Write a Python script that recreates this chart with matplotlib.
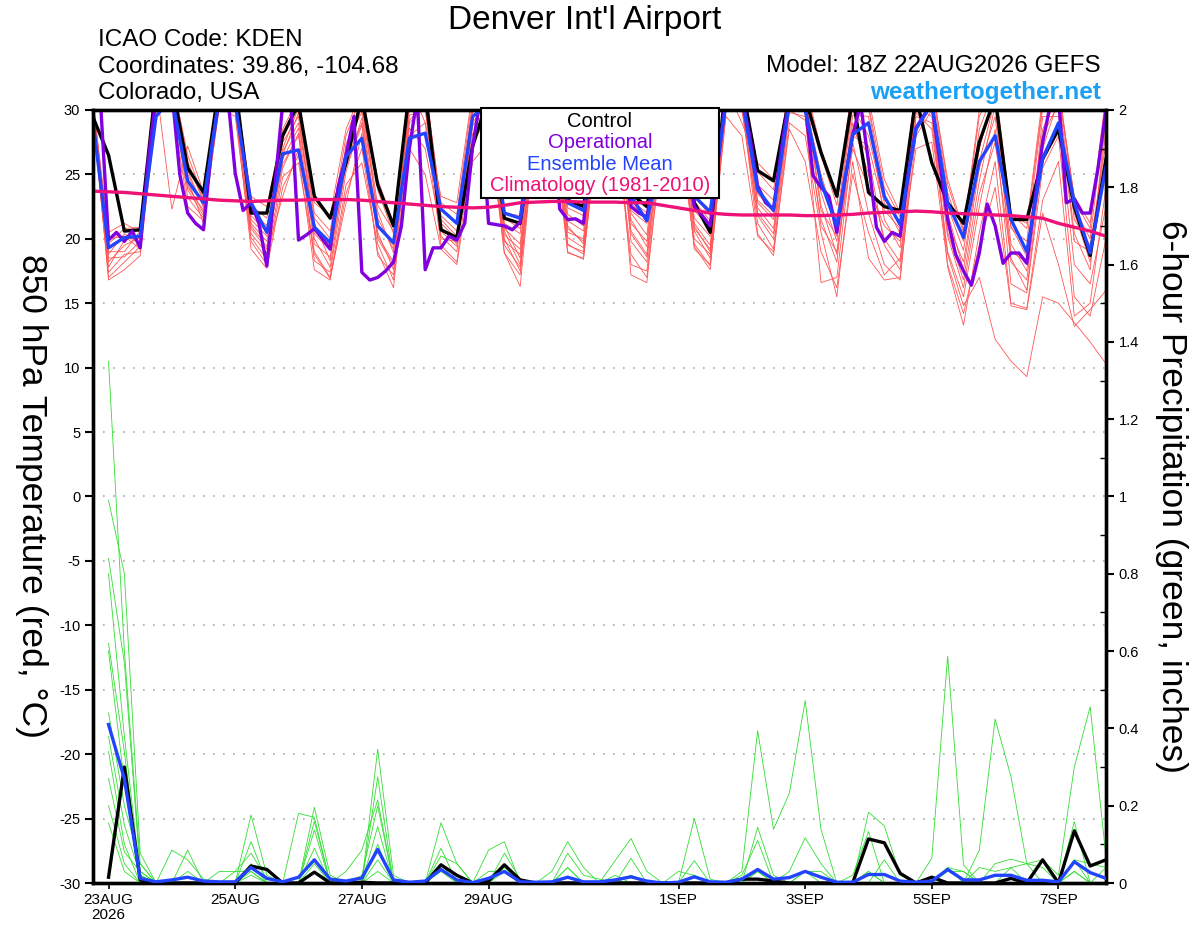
import matplotlib
matplotlib.use("Agg")
import matplotlib.pyplot as plt
from matplotlib.patches import Rectangle
from matplotlib.ticker import FuncFormatter, MultipleLocator
import numpy as np
import pandas as pd

plt.rcParams["font.family"] = ["Liberation Sans", "DejaVu Sans"]
plt.rcParams["axes.unicode_minus"] = False

nan = np.nan

# --- time axes (GEFS 18Z 22AUG2026 run) ---
times6 = pd.date_range("2026-08-22 18:00", periods=65, freq="6h").to_numpy()
times3 = pd.date_range("2026-08-22 18:00", periods=129, freq="3h").to_numpy()
tick_dates = pd.to_datetime(["2026-08-23", "2026-08-25", "2026-08-27", "2026-08-29",
                             "2026-09-01", "2026-09-03", "2026-09-05", "2026-09-07"]).to_numpy()
tick_labels = ["23AUG\n2026", "25AUG", "27AUG", "29AUG", "1SEP", "3SEP", "5SEP", "7SEP"]

# --- 850 hPa temperature (C) ---
control_t = [29.5, 26.5, 20.6, 20.7, 32, 32, 25.5, 23.6, 32, 32, 22.0, 22.0, 28.0, 30.5, 23.3, 21.6,
             25.9, 31, 24.2, 21.0, 31.5, 31.5, 20.7, 20.1, 27.2, 31, 21.6, 21.2, 30, 31, 23.0, 22.5,
             30, 31, 23.5, 22.5, 29, 31, 22.8, 20.5, 32, 32, 25.3, 24.5, 31, 31, 26.7, 23.3,
             31, 23.6, 22.5, 22.2, 31, 25.9, 22.8, 21.2, 27.5, 31, 21.5, 21.5, 26.2, 28.5, 22.5, 18.7,
             26.2]
mean_t = [29.3, 19.3, 20.1, 20.2, 29.5, 31, 24.5, 22.8, 31, 30.5, 22.8, 20.5, 26.6, 26.9, 20.9, 19.7,
          26.4, 27.8, 21.0, 19.7, 27.8, 28.2, 22.3, 21.2, 29.5, 30.5, 22.0, 21.6, 28, 29, 22.8, 22.2,
          27, 29, 23.3, 21.4, 27, 29, 23.3, 22.1, 30.5, 31, 23.8, 22.2, 30.5, 30, 24.4, 21.0,
          28.1, 29.0, 23.3, 21.1, 28.5, 30.5, 22.8, 20.1, 26.0, 28.0, 21.5, 19.0, 26.2, 29.0, 22.8, 18.9,
          25.6]
# operational run is 3-hourly
oper_t = [31, 30.5, 19.9, 20.5, 19.8, 20.6, 19.3, 26, 31, 32, 31.5, 25.0, 22.0, 21.2, 20.7, 27,
          31, 31.5, 25.1, 22.2, 22.8, 21.2, 17.9, 24, 30.5, 31, 19.9, 20.3, 20.8, 20.0, 19.2, 24,
          26.5, 29.5, 17.4, 16.8, 17.0, 17.5, 18.2, 21, 27, 31, 17.6, 19.3, 19.3, 20.2, 19.9, 21.2,
          27.2, 31, 21.2, 21.1, 21.0, 20.7, 21.3, 27, 31, 31, 29, 22.3, 21.5, 21.55, 21.2, 27,
          31, 31.5, 31, 26, 22.5, 22.0, 21.7, 25, 30, 31, 30.5, 26, 22.5, 21.8, 21.0, 26,
          31, 31.5, 31, 28, 24.1, 22.8, 22.3, 27, 31, 31.5, 30.5, 24.9, 24.0, 23.3, 20.5, 24.5,
          28, 30.5, 26, 20.9, 19.8, 20.5, 20.2, 25, 28.6, 29.6, 30.5, 26, 21.5, 18.8, 17.5, 16.4,
          18.9, 22.7, 21, 18.1, 18.9, 18.9, 18.1, 23, 27.5, 30.5, 31, 22.8, 23.1, 22.0, 22.0, 25.5,
          30]
clim_t = [23.7, 23.65, 23.6, 23.5, 23.4, 23.3, 23.2, 23.1, 23.0, 22.95, 22.9, 22.95, 23.0, 23.0, 23.05, 23.05,
          23.05, 23.0, 22.9, 22.8, 22.7, 22.6, 22.5, 22.45, 22.4, 22.45, 22.6, 22.8, 22.85, 22.9, 22.9, 22.85,
          22.85, 22.85, 22.8, 22.8, 22.6, 22.4, 22.2, 22.0, 21.9, 21.85, 21.85, 21.85, 21.85, 21.8, 21.8, 21.85,
          21.9, 22.0, 22.05, 22.1, 22.15, 22.1, 22.0, 21.95, 21.9, 21.85, 21.8, 21.7, 21.6, 21.2, 20.9, 20.6,
          20.2]

red_m01 = [30.5, 18.2, 19.5, 20.1, 31.5, 32.0, 25.3, 22.4, 31.8, 31.0, 21.2, 19.8, 27.5, 29.5, 20.4, 19.1,
           26.8, 30.2, 22.1, 18.9, 30.5, 31.0, 21.8, 20.6, 30.4, 31.2, 20.3, 19.2, 31.0, 31.5, 21.4, 20.6,
           30.8, 31.2, 22.0, 20.3, 30.2, 31.4, 21.6, 20.2, 31.5, 31.6, 23.5, 22.1, 31.2, 30.6, 25.0, 21.0,
           30.2, 28.0, 22.8, 20.4, 31.5, 31.0, 22.5, 19.1, 27.0, 31.5, 21.0, 18.6, 28.5, 31.2, 21.5, 19.5,
           27.5]
red_m02 = [29.8, 17.0, 18.2, 19.4, 30.8, 31.6, 23.8, 21.8, 31.2, 30.4, 20.1, 18.4, 25.5, 28.2, 18.3, 17.4,
           25.2, 29.4, 20.5, 17.6, 29.2, 30.5, 20.2, 19.0, 29.0, 30.8, 19.5, 17.8, 30.5, 31.2, 20.1, 19.3,
           31.2, 31.8, 19.8, 18.2, 29.4, 31.0, 20.6, 18.5, 31.0, 31.8, 22.0, 20.4, 30.6, 31.0, 22.6, 18.8,
           29.0, 25.0, 20.0, 18.2, 30.8, 31.6, 20.5, 16.8, 24.5, 30.4, 18.2, 16.8, 27.0, 30.8, 20.4, 17.6,
           29.5]
red_m03 = [31.0, 19.6, 20.8, 20.9, 32.2, 32.5, 26.5, 23.2, 32.2, 31.8, 22.6, 21.6, 28.2, 30.6, 22.0, 20.6,
           28.0, 31.2, 23.8, 20.4, 31.5, 31.8, 22.8, 21.9, 31.2, 31.6, 21.6, 20.8, 31.6, 32.0, 22.4, 21.8,
           31.6, 32.2, 22.8, 21.5, 31.0, 32.0, 22.9, 21.4, 32.0, 32.2, 25.2, 23.8, 32.0, 31.8, 26.5, 22.6,
           31.5, 30.4, 24.0, 21.7, 32.0, 32.2, 24.2, 20.5, 29.5, 32.0, 22.0, 20.8, 30.5, 32.0, 23.0, 20.8,
           30.8]
red_m04 = [30.2, 16.8, 17.6, 18.7, 29.5, 31.0, 24.6, 21.2, 30.5, 30.0, 19.2, 17.7, 24.0, 26.5, 17.6, 16.8,
           23.5, 27.0, 19.0, 16.2, 28.0, 29.0, 19.5, 18.2, 27.5, 29.5, 18.9, 16.3, 29.0, 30.2, 19.0, 18.4,
           29.8, 30.6, 17.2, 16.6, 28.0, 29.8, 19.4, 17.6, 30.0, 30.5, 20.4, 18.7, 29.0, 28.0, 20.5, 15.5,
           26.0, 18.5, 16.8, 17.0, 28.0, 30.0, 17.8, 13.3, 20.5, 26.0, 15.0, 14.6, 23.0, 26.0, 14.0, 15.0,
           24.0]
red_m05 = [29.6, 18.8, 20.4, 19.6, 31.0, 31.2, 25.8, 22.9, 31.5, 31.4, 21.8, 20.5, 26.8, 29.0, 21.2, 18.3,
           27.4, 29.8, 21.0, 19.5, 30.0, 30.6, 21.2, 20.0, 29.8, 30.5, 21.0, 18.5, 30.2, 31.0, 20.8, 19.8,
           30.5, 31.0, 21.5, 19.4, 29.8, 30.8, 21.0, 19.0, 30.8, 31.2, 22.8, 21.5, 30.8, 31.4, 23.6, 19.8,
           29.6, 29.5, 21.5, 19.3, 31.0, 30.8, 21.2, 18.2, 26.0, 30.8, 19.6, 17.5, 29.5, 29.5, 22.0, 18.2,
           28.5]
red_m06 = [30.8, 20.5, 21.2, 20.5, 32.0, 22.3, 27.2, 23.6, 31.0, 32.0, 23.3, 22.5, 28.5, 31.0, 22.8, 21.8,
           28.5, 31.5, 24.6, 21.2, 32.0, 29.0, 23.3, 22.8, 31.5, 30.0, 22.0, 21.8, 31.8, 30.8, 22.8, 22.5,
           32.2, 31.5, 23.0, 22.0, 30.8, 31.2, 23.3, 21.8, 31.8, 29.0, 25.9, 24.6, 31.5, 32.0, 27.0, 23.3,
           32.0, 31.0, 24.6, 22.0, 31.8, 32.0, 24.6, 20.7, 30.0, 30.5, 21.8, 21.2, 31.0, 31.5, 23.3, 21.2,
           31.2]
red_m07 = [29.4, 17.4, 18.8, 19.0, 30.2, 31.8, 24.2, 22.0, 30.8, 30.2, 20.4, 18.9, 23.3, 27.0, 19.0, 17.0,
           22.8, 28.2, 18.7, 17.2, 28.6, 27.0, 20.6, 19.4, 28.2, 29.0, 18.9, 17.2, 29.5, 30.0, 19.6, 18.8,
           30.0, 29.5, 18.0, 17.5, 28.8, 30.2, 19.2, 18.0, 30.4, 30.8, 21.2, 19.2, 29.8, 29.5, 16.6, 17.0,
           27.5, 22.0, 18.0, 16.8, 29.5, 29.0, 19.0, 15.5, 22.5, 28.5, 16.5, 15.8, 25.5, 28.0, 15.5, 14.0,
           20.0]
red_m08 = [31.2, 19.0, 19.0, 20.6, 31.2, 32.6, 26.0, 23.0, 32.0, 31.2, 22.2, 21.0, 27.0, 30.2, 21.6, 20.0,
           27.0, 30.6, 22.6, 20.6, 31.0, 32.0, 22.4, 21.2, 30.6, 31.8, 21.2, 20.4, 31.2, 31.8, 21.9, 21.0,
           31.0, 32.0, 22.2, 21.2, 30.5, 31.6, 22.2, 20.8, 31.2, 31.4, 24.2, 23.0, 31.8, 30.4, 24.2, 21.6,
           30.6, 30.2, 23.0, 22.0, 31.6, 31.8, 23.6, 19.8, 28.5, 31.8, 20.8, 19.8, 30.2, 31.8, 22.4, 20.0,
           30.2]
red_m09 = [30.0, 18.5, 18.6, 19.8, 30.5, 31.4, 23.2, 21.6, 31.6, 30.8, 20.8, 19.2, 26.2, 28.6, 20.0, 17.8,
           26.0, 29.0, 20.0, 18.0, 29.6, 30.0, 20.9, 19.6, 30.0, 30.2, 19.8, 18.8, 30.0, 30.6, 19.5, 19.0,
           30.4, 30.4, 20.6, 18.8, 29.0, 30.5, 20.0, 18.8, 31.0, 30.0, 21.8, 20.0, 30.0, 29.2, 21.5, 18.2,
           28.5, 26.5, 19.5, 17.6, 29.8, 28.5, 18.8, 14.8, 17.0, 12.2, 10.5, 9.3, 15.5, 15.0, 13.5, 12.0,
           10.3]
red_m10 = [29.9, 17.8, 19.9, 20.3, 29.8, 30.6, 22.5, 21.4, 30.2, 29.5, 19.8, 18.0, 24.8, 25.9, 18.8, 16.9,
           24.2, 25.9, 19.6, 16.8, 27.0, 25.0, 19.2, 18.0, 26.0, 27.5, 20.0, 17.5, 28.4, 29.4, 18.9, 18.5,
           29.2, 29.0, 18.8, 17.0, 27.5, 28.5, 19.6, 17.9, 29.5, 28.0, 20.2, 19.0, 28.5, 26.0, 19.0, 16.2,
           25.0, 20.5, 17.2, 18.5, 27.0, 27.5, 18.0, 14.2, 19.5, 24.0, 14.8, 14.5, 22.0, 18.0, 13.2, 14.5,
           16.0]
red_m11 = [30.6, 20.0, 20.2, 19.2, 31.6, 31.0, 25.0, 22.6, 31.0, 31.5, 21.5, 20.2, 26.5, 29.8, 20.8, 19.5,
           26.2, 30.8, 21.6, 19.2, 30.2, 31.4, 21.5, 20.2, 29.4, 31.0, 20.8, 19.6, 30.8, 31.0, 20.5, 20.0,
           31.4, 30.8, 21.2, 19.8, 30.0, 30.0, 21.2, 19.5, 31.4, 31.0, 23.0, 21.8, 30.4, 30.8, 22.2, 20.2,
           28.0, 27.2, 22.2, 20.8, 30.5, 30.4, 22.0, 17.6, 25.5, 29.5, 19.0, 18.2, 28.0, 30.5, 19.8, 19.0,
           26.5]
red_m12 = [30.3, 19.4, 20.0, 20.0, 30.6, 32.2, 24.0, 22.2, 30.6, 31.6, 21.0, 19.4, 25.8, 28.0, 19.6, 18.6,
           25.6, 28.8, 20.2, 18.2, 29.0, 30.2, 20.0, 19.8, 28.8, 30.0, 20.6, 18.0, 29.8, 30.4, 21.0, 19.6,
           30.2, 31.4, 20.4, 18.6, 29.6, 31.8, 20.8, 19.2, 30.6, 30.2, 22.4, 20.8, 30.2, 30.0, 21.0, 19.0,
           27.0, 24.0, 21.0, 19.8, 30.2, 29.5, 20.2, 16.2, 23.5, 27.5, 18.5, 16.0, 26.5, 29.0, 18.0, 16.5,
           22.5]
red_members = [red_m01, red_m02, red_m03, red_m04, red_m05, red_m06,
               red_m07, red_m08, red_m09, red_m10, red_m11, red_m12]

# --- 6-hour precipitation (inches) ---
control_p = [nan, 0.015, 0.30, 0.008, 0, 0, 0, 0, 0, 0, 0.044, 0.035, 0, 0, 0.028, 0,
             0, 0.002, 0, 0, 0, 0, 0.047, 0.02, 0, 0.005, 0.047, 0.008, 0, 0, 0, 0,
             0, 0, 0, 0, 0, 0, 0, 0, 0, 0.01, 0.01, 0.005, 0, 0, 0, 0,
             0, 0.114, 0.104, 0.025, 0, 0.015, 0, 0, 0, 0, 0.012, 0, 0.06, 0, 0.135, 0.044,
             0.06]
mean_p = [nan, 0.41, 0.27, 0.012, 0.003, 0.008, 0.015, 0.005, 0.003, 0.003, 0.04, 0.012, 0.003, 0.015, 0.06, 0.01,
          0.005, 0.013, 0.087, 0.008, 0.002, 0.005, 0.035, 0.008, 0.001, 0.012, 0.03, 0.003, 0.002, 0.003, 0.015, 0.003,
          0.003, 0.008, 0.016, 0.005, 0, 0.002, 0.016, 0.003, 0.002, 0.01, 0.035, 0.01, 0.014, 0.03, 0.015, 0.002,
          0.002, 0.022, 0.022, 0.005, 0.002, 0.005, 0.035, 0.008, 0.008, 0.02, 0.02, 0.007, 0.007, 0.003, 0.055, 0.027,
          0.012]

grn_m01 = [nan, 1.35, 0.60, 0.05, 0, 0, 0.03, 0, 0, 0, 0.03, 0, 0, 0, 0.09, 0,
           0, 0, 0.346, 0.02, 0, 0, 0.05, 0, 0, 0, 0.03, 0, 0, 0, 0.04, 0,
           0, 0, 0.02, 0, 0, 0, 0.02, 0, 0, 0.03, 0.394, 0.139, 0.232, 0.472, 0.139, 0,
           0, 0.03, 0, 0, 0, 0, 0.04, 0.03, 0, 0, 0.04, 0, 0, 0, 0.06, 0.05,
           0.04]
grn_m02 = [nan, 0.99, 0.80, 0.077, 0, 0, 0, 0, 0, 0, 0.176, 0.02, 0, 0, 0.196, 0.02,
           0, 0, 0.275, 0, 0, 0, 0.156, 0.05, 0, 0, 0.04, 0, 0, 0, 0, 0,
           0, 0.058, 0.115, 0.03, 0, 0, 0.167, 0.01, 0, 0, 0.03, 0, 0, 0.03, 0, 0,
           0, 0.183, 0.148, 0.02, 0, 0.064, 0.587, 0.047, 0, 0, 0, 0, 0, 0, 0.03, 0,
           0]
grn_m03 = [nan, 0.84, 0.57, 0.03, 0, 0.085, 0.06, 0.01, 0, 0, 0.107, 0, 0, 0.18, 0.17, 0,
           0.03, 0.085, 0.215, 0, 0, 0, 0.09, 0, 0, 0.085, 0.107, 0, 0, 0.03, 0.107, 0.04,
           0, 0, 0.02, 0, 0, 0, 0.058, 0, 0, 0, 0.144, 0.02, 0, 0, 0, 0,
           0, 0, 0.06, 0, 0, 0, 0.04, 0, 0.085, 0.424, 0.275, 0.05, 0, 0, 0, 0,
           0]
grn_m04 = [nan, 0.80, 0.38, 0.02, 0, 0, 0.085, 0, 0.03, 0.03, 0.077, 0.01, 0, 0, 0.16, 0,
           0, 0.02, 0.20, 0, 0, 0, 0.07, 0.05, 0, 0, 0.077, 0.01, 0, 0, 0.077, 0.02,
           0.01, 0, 0.064, 0, 0, 0, 0, 0, 0, 0.02, 0.11, 0, 0.03, 0.117, 0.05, 0,
           0.02, 0.133, 0, 0, 0, 0, 0.03, 0.03, 0, 0.05, 0.062, 0.05, 0.06, 0.02, 0.30, 0.456,
           0.068]
grn_m05 = [nan, 0.62, 0.34, 0.01, 0, 0, 0, 0, 0, 0, 0.05, 0, 0, 0, 0.137, 0,
           0, 0, 0.146, 0, 0, 0, 0.03, 0, 0, 0.03, 0.03, 0, 0, 0, 0.04, 0,
           0, 0.02, 0, 0, 0, 0.03, 0.02, 0, 0, 0, 0.03, 0, 0, 0.03, 0.03, 0,
           0, 0.03, 0, 0, 0, 0, 0, 0, 0.04, 0.03, 0.04, 0.05, 0.04, 0, 0.159, 0,
           0.04]
grn_m06 = [nan, 0.60, 0.26, 0, 0, 0, 0, 0, 0, 0.03, 0.03, 0, 0, 0, 0.05, 0,
           0, 0, 0.10, 0, 0, 0, 0, 0, 0, 0, 0, 0, 0, 0, 0, 0,
           0, 0, 0, 0, 0, 0, 0, 0, 0, 0, 0, 0, 0, 0, 0, 0,
           0, 0, 0, 0, 0, 0, 0, 0, 0, 0, 0, 0, 0, 0, 0.06, 0,
           0]
grn_m07 = [nan, 0.44, 0.20, 0.05, 0, 0, 0, 0, 0, 0, 0.02, 0, 0, 0, 0.03, 0,
           0, 0, 0.06, 0, 0, 0, 0, 0, 0, 0, 0, 0, 0, 0, 0, 0,
           0, 0, 0, 0, 0, 0, 0, 0, 0, 0, 0, 0, 0, 0, 0, 0,
           0, 0, 0, 0, 0, 0, 0, 0, 0, 0, 0, 0, 0, 0, 0.03, 0,
           0]
grn_m08 = [nan, 0.38, 0.15, 0.02, 0, 0, 0, 0, 0, 0, 0, 0, 0, 0, 0, 0,
           0, 0, 0.03, 0, 0, 0, 0, 0, 0, 0, 0, 0, 0, 0, 0, 0,
           0, 0, 0, 0, 0, 0, 0, 0, 0, 0, 0, 0, 0, 0, 0, 0,
           0, 0, 0, 0, 0, 0, 0, 0, 0, 0, 0, 0, 0, 0, 0, 0,
           0]
grn_m09 = [nan, 0.34, 0.10, 0, 0, 0, 0, 0, 0, 0, 0, 0, 0, 0, 0, 0,
           0, 0, 0, 0, 0, 0, 0, 0, 0, 0, 0, 0, 0, 0, 0, 0,
           0, 0, 0, 0, 0, 0, 0, 0, 0, 0, 0, 0, 0, 0, 0, 0,
           0, 0, 0, 0, 0, 0, 0, 0, 0, 0, 0, 0, 0, 0, 0, 0,
           0]
grn_m10 = [nan, 0.27, 0.08, 0.03, 0, 0, 0, 0, 0, 0, 0, 0, 0, 0, 0, 0,
           0, 0, 0, 0, 0, 0, 0, 0, 0, 0, 0, 0, 0, 0, 0, 0,
           0, 0, 0, 0, 0, 0, 0, 0, 0, 0, 0, 0, 0, 0, 0, 0,
           0, 0, 0, 0, 0, 0, 0, 0, 0, 0, 0, 0, 0, 0, 0, 0,
           0]
grn_m11 = [nan, 0.20, 0.05, 0, 0, 0, 0, 0, 0, 0, 0, 0, 0, 0, 0, 0,
           0, 0, 0, 0, 0, 0, 0, 0, 0, 0, 0, 0, 0, 0, 0, 0,
           0, 0, 0, 0, 0, 0, 0, 0, 0, 0, 0, 0, 0, 0, 0, 0,
           0, 0, 0, 0, 0, 0, 0, 0, 0, 0, 0, 0, 0, 0, 0, 0,
           0]
grn_m12 = [nan, 0.155, 0.03, 0, 0, 0, 0, 0, 0, 0, 0, 0, 0, 0, 0, 0,
           0, 0, 0, 0, 0, 0, 0, 0, 0, 0, 0, 0, 0, 0, 0, 0,
           0, 0, 0, 0, 0, 0, 0, 0, 0, 0, 0, 0, 0, 0, 0, 0,
           0, 0, 0, 0, 0, 0, 0, 0, 0, 0, 0, 0, 0, 0, 0, 0,
           0]
green_members = [grn_m01, grn_m02, grn_m03, grn_m04, grn_m05, grn_m06,
                 grn_m07, grn_m08, grn_m09, grn_m10, grn_m11, grn_m12]

C_RED = "#ff5555"
C_GREEN = "#33dd33"
C_OPER = "#8000e0"
C_MEAN = "#2244ff"
C_CLIM = "#ee1177"
LW = 2.4

fig = plt.figure(figsize=(12, 9.27), dpi=100)
ax = fig.add_axes([0.07725, 0.04746, 0.8444, 0.8339])
ax2 = ax.twinx()

# temperature (left axis)
for m in red_members:
    ax.plot(times6, m, color=C_RED, lw=0.6, zorder=2)
ax.plot(times6, control_t, color="black", lw=LW, zorder=3)
ax.plot(times3, oper_t, color=C_OPER, lw=LW, zorder=4)
ax.plot(times6, mean_t, color=C_MEAN, lw=LW, zorder=5)
ax.plot(times6, clim_t, color=C_CLIM, lw=LW, zorder=6)

ax.set_ylim(-30, 30)
ax.set_yticks(np.arange(-30, 31, 5))
for yv in range(-25, 30, 5):
    ax.axhline(yv, color="#aaaaaa", lw=1.2, ls=(0, (1, 5)), zorder=1)

# precipitation (right axis)
for m in green_members:
    ax2.plot(times6, m, color=C_GREEN, lw=0.6, zorder=2)
ax2.plot(times6, control_p, color="black", lw=LW, zorder=3)
ax2.plot(times6, mean_p, color=C_MEAN, lw=LW, zorder=4)
ax2.set_ylim(0, 2)
ax2.yaxis.set_major_locator(MultipleLocator(0.2))
ax2.yaxis.set_minor_locator(MultipleLocator(0.1))
ax2.yaxis.set_major_formatter(FuncFormatter(lambda v, p: f"{v:g}"))

ax.set_xlim(times6[0], times6[-1])
ax.set_xticks(tick_dates)
ax.set_xticklabels(tick_labels, fontsize=11, linespacing=1.15)

for a in (ax, ax2):
    for s in a.spines.values():
        s.set_linewidth(2.4)
ax.tick_params(axis="y", labelsize=10.5, length=6, width=1.5, pad=3)
ax.tick_params(axis="x", length=4, width=1.2, pad=3)
ax2.tick_params(axis="y", which="major", labelsize=10.5, length=6, width=1.5, pad=3)
ax2.tick_params(axis="y", which="minor", direction="in", length=4, width=1.0)

ax.set_ylabel("850 hPa Temperature (red, °C)", fontsize=25.5, rotation=-90, va="bottom")
ax.yaxis.set_label_coords(-0.0765, 0.5)
ax2.set_ylabel("6-hour Precipitation (green, inches)", fontsize=25.5, rotation=-90, va="bottom")
ax2.yaxis.set_label_coords(1.048, 0.5)

# legend box
ax2.add_patch(Rectangle((0.383, 0.886), 0.235, 0.117, transform=ax2.transAxes,
                        facecolor="white", edgecolor="black", lw=1.5,
                        clip_on=False, zorder=10))
leg_items = [("Control", "black", 127), ("Operational", C_OPER, 148),
             ("Ensemble Mean", C_MEAN, 170), ("Climatology (1981-2010)", C_CLIM, 191)]
for txt, col, ypix in leg_items:
    fig.text(600 / 1200, 1 - ypix / 927, txt, color=col, fontsize=14.5,
             ha="center", va="baseline", zorder=11)

# header texts
fig.text(585 / 1200, 1 - 29 / 927, "Denver Int'l Airport", fontsize=24,
         ha="center", va="baseline")
for txt, ypix in [("ICAO Code: KDEN", 46), ("Coordinates: 39.86, -104.68", 72.5),
                  ("Colorado, USA", 99)]:
    fig.text(98 / 1200, 1 - ypix / 927, txt, fontsize=17.5, ha="left", va="baseline")
fig.text(1101 / 1200, 1 - 72.5 / 927, "Model: 18Z 22AUG2026 GEFS", fontsize=17.5,
         ha="right", va="baseline")
fig.text(1101 / 1200, 1 - 99 / 927, "weathertogether.net", fontsize=17.5,
         fontweight="bold", color="#1aa0f5", ha="right", va="baseline")

fig.savefig("out.png", dpi=100, facecolor="white")
